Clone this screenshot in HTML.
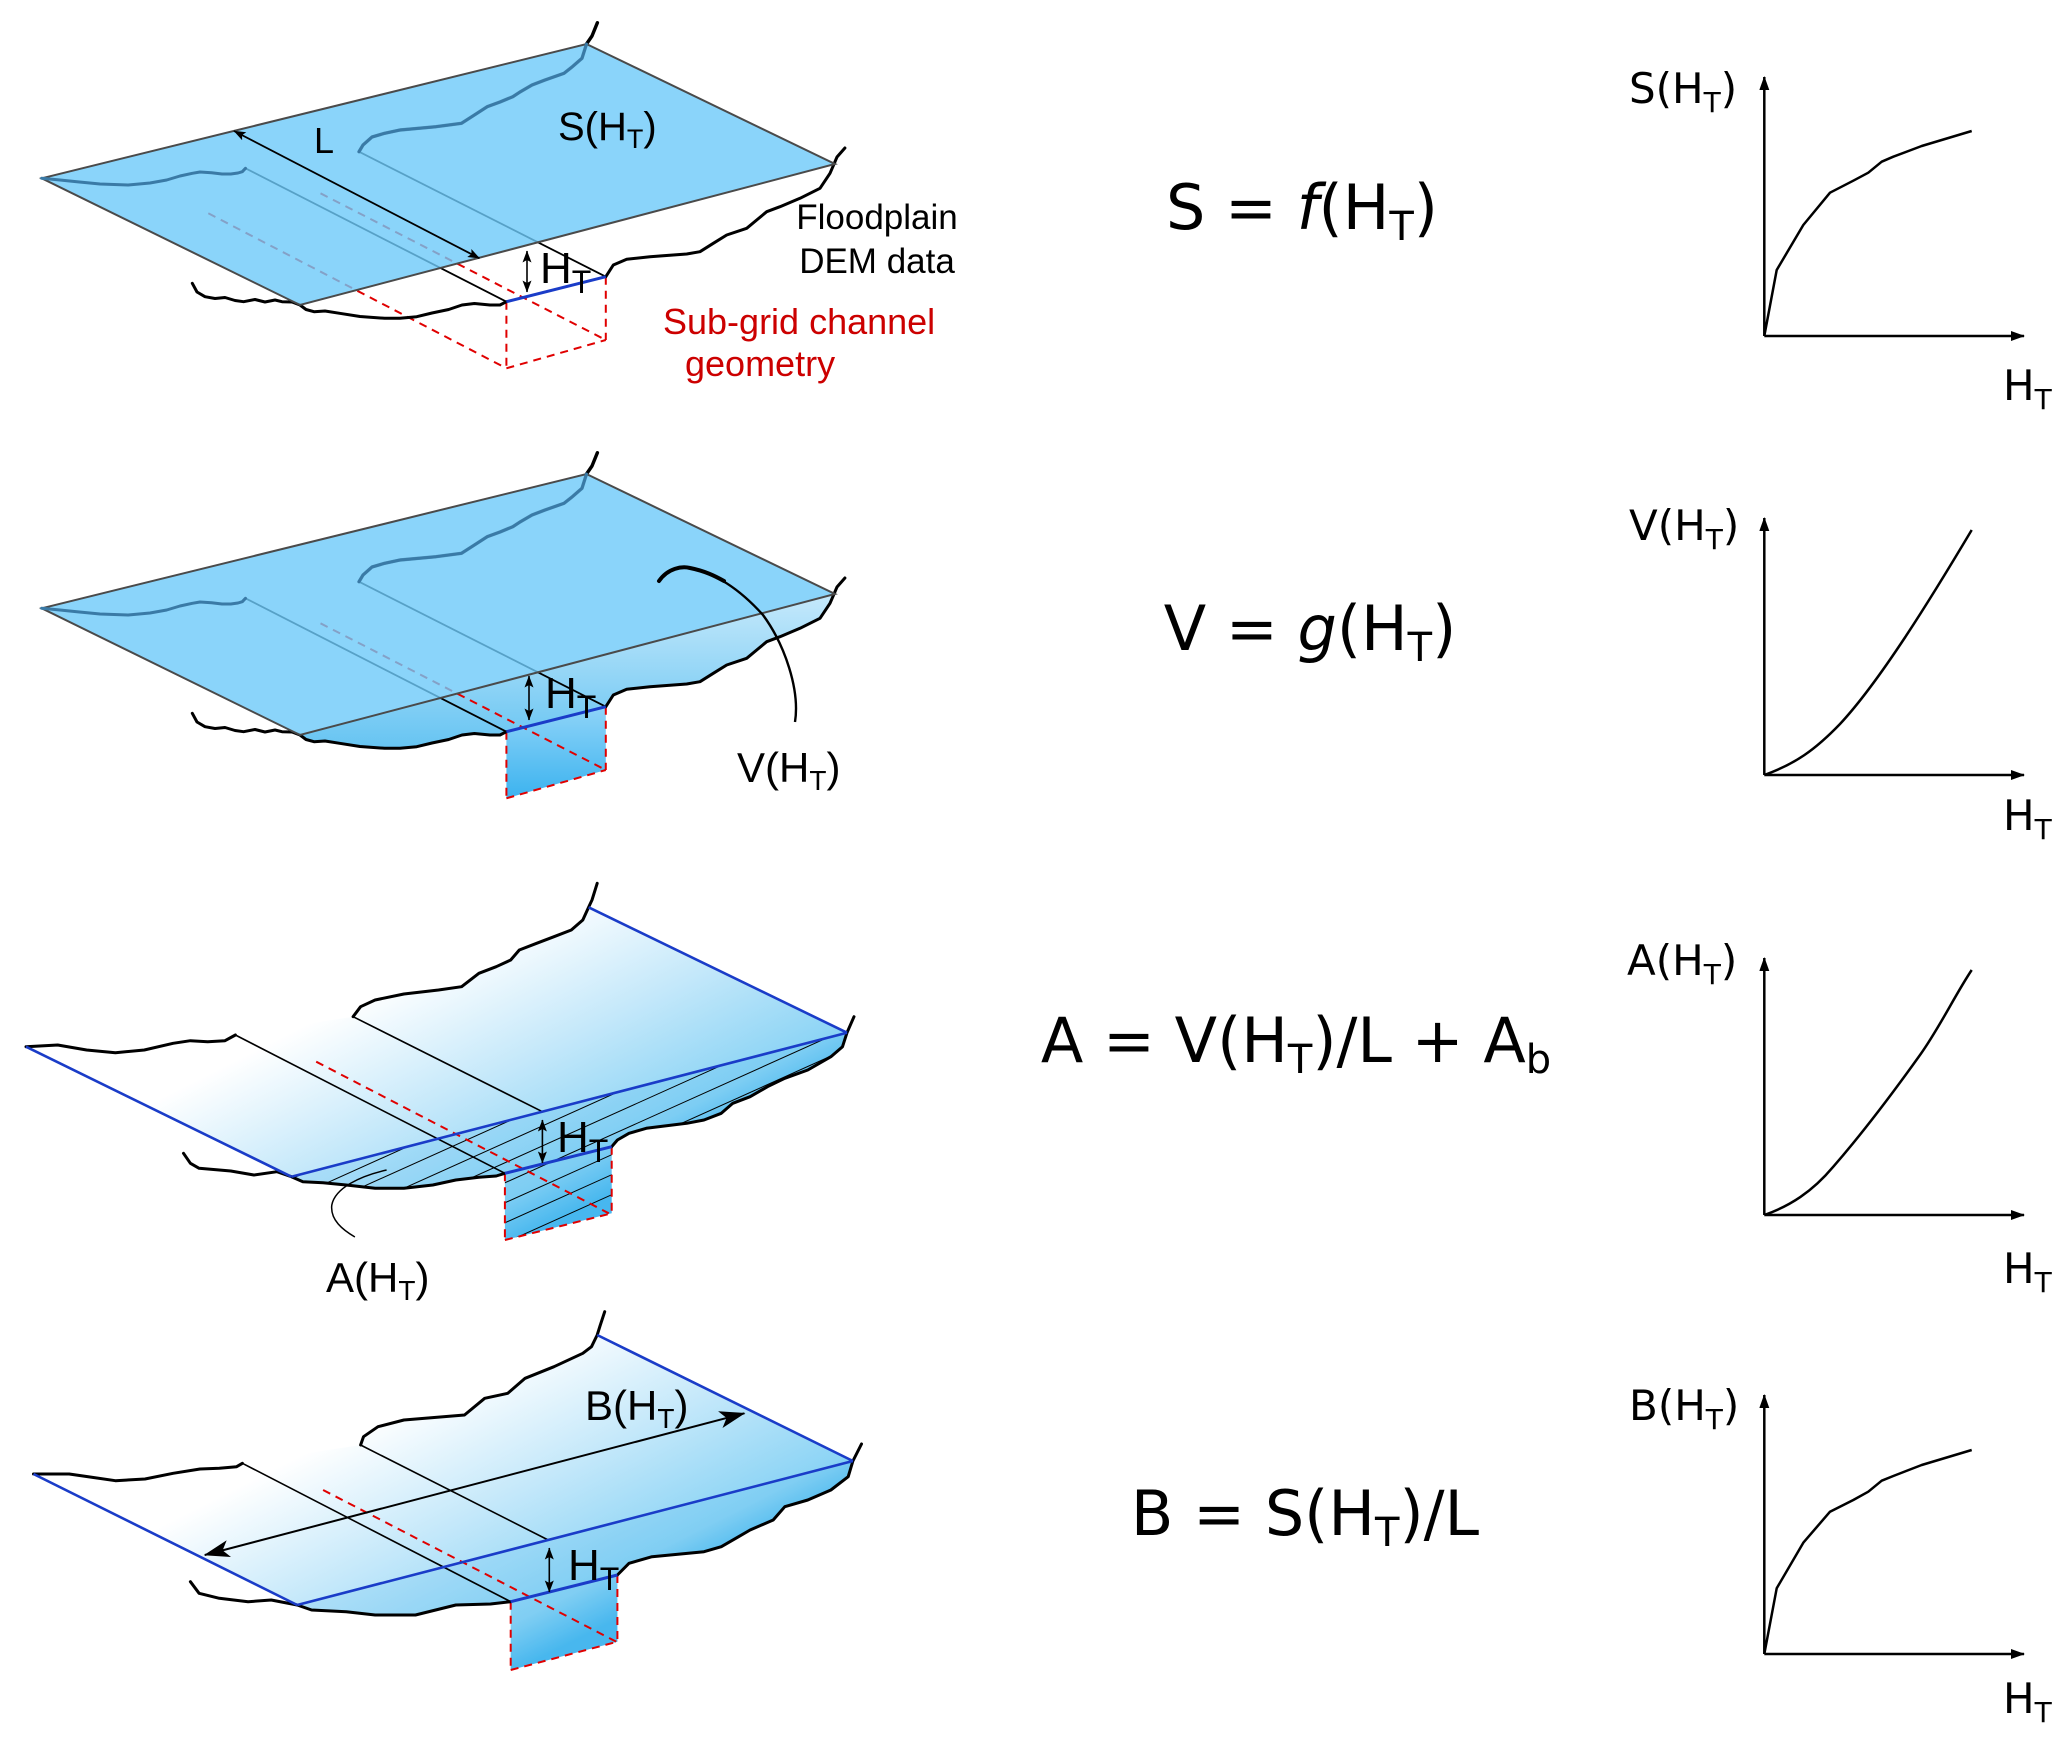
<!DOCTYPE html>
<html>
<head>
<meta charset="utf-8">
<style>
html,body{margin:0;padding:0;background:#fff;}
svg{display:block;}
.ls{font-family:"Liberation Sans",Arial,sans-serif;}
.dj{font-family:"DejaVu Sans","Liberation Sans",sans-serif;}
</style>
</head>
<body>
<svg width="2067" height="1738" viewBox="0 0 2067 1738" xmlns="http://www.w3.org/2000/svg">
<defs>
  <marker id="a1" viewBox="0 0 12 10" refX="11.5" refY="5" markerWidth="12" markerHeight="10" markerUnits="userSpaceOnUse" orient="auto-start-reverse"><path d="M0,0.5 L12,5 L0,9.5 L2.5,5 z" fill="#000"/></marker>
  <marker id="a2" viewBox="0 0 24 16" refX="23" refY="8" markerWidth="26" markerHeight="18" markerUnits="userSpaceOnUse" orient="auto-start-reverse"><path d="M0,0 L24,8 L0,16 L6,8 z" fill="#000"/></marker>
  <marker id="ax" viewBox="0 0 14 10" refX="13" refY="5" markerWidth="14" markerHeight="10" markerUnits="userSpaceOnUse" orient="auto"><path d="M0,0 L14,5 L0,10 z" fill="#000"/></marker>

  <linearGradient id="ff2" x1="0" y1="0" x2="0" y2="1">
    <stop offset="0" stop-color="#c6e9fb"/>
    <stop offset="1" stop-color="#66c4f2"/>
  </linearGradient>
  <linearGradient id="ch" x1="0" y1="0" x2="0" y2="1">
    <stop offset="0" stop-color="#8fd4f8"/>
    <stop offset="1" stop-color="#3cb3ef"/>
  </linearGradient>
  <linearGradient id="s3g" gradientUnits="userSpaceOnUse" x1="300" y1="1028" x2="430.5" y2="1286">
    <stop offset="0" stop-color="#ffffff"/>
    <stop offset="0.45" stop-color="#c4e8fa"/>
    <stop offset="0.85" stop-color="#8cd4f5"/>
    <stop offset="1" stop-color="#4ab9ef"/>
  </linearGradient>
  <linearGradient id="s4g" gradientUnits="userSpaceOnUse" x1="300" y1="1456" x2="430.5" y2="1714">
    <stop offset="0" stop-color="#ffffff"/>
    <stop offset="0.45" stop-color="#c4e8fa"/>
    <stop offset="0.85" stop-color="#8cd4f5"/>
    <stop offset="1" stop-color="#4ab9ef"/>
  </linearGradient>

  <path id="gL" d="M192.3,283.3 L197,292 L205,296.7 L215,298.5 L225,297.5 L235,300.5 L243.6,301.7 L255,299.5 L265,302 L275,300 L282,301.7 L292,302 L300,305 L306,309.5 L314,311.7 L325,311 L339.7,313.3 L360,316.5 L384.6,318.3 L400,318.3 L416.7,316.7 L432,313 L448.7,309.5 L462,305 L474.4,303.5 L490,305 L500,305 L506.4,301.7"/>
  <path id="gR" d="M605.8,276.7 L613.3,265 L626.7,259.3 L650,256.7 L686.7,254 L700,251.7 L713.3,243.3 L726.7,235 L746.7,228.3 L756.7,220 L766.7,211.7 L780,206.7 L800,198.3 L820,188.3 L830,173.3 L834,164 L837,157 L844.9,148"/>
  <path id="wL" d="M41.7,178.3 L60,180 L76.9,181.7 L100,184 L128.2,185 L150,183 L166.7,180 L180,176 L192.3,173.3 L200,172 L211.5,172.7 L222,174 L230.8,174 L238,173 L242.3,171.7 L245.5,168.3"/>
  <path id="wR" d="M597.4,22.7 L592,36 L586.5,44 L582,58.3 L572,67 L564,73.3 L545,80 L532,85 L520,92 L512.8,96.7 L500,102 L487.2,106.7 L474.4,115 L461.5,123.3 L435.9,126.7 L400,130 L384.6,133.3 L372,137 L363,145 L359,151.7"/>
  <path id="wR2" d="M586.5,44 L582,58.3 L572,67 L564,73.3 L545,80 L532,85 L520,92 L512.8,96.7 L500,102 L487.2,106.7 L474.4,115 L461.5,123.3 L435.9,126.7 L400,130 L384.6,133.3 L372,137 L363,145 L359,151.7"/>
  <polygon id="pl" points="41.7,178.3 586.5,44 835,164 300,305"/>

  <clipPath id="h3clip">
    <path d="M291.4,1176.7 L847,1032.7 L842.5,1046.7 L830.9,1056.7 L807.8,1070 L784.8,1078.3 L767.5,1086.7 L750.1,1096.7 L732.8,1103.3 L721.3,1113.3 L704,1120 L686.7,1123.3 L646.3,1128.3 L629,1133.3 L617.4,1140 L611.7,1146.7 L611.7,1213.3 L504.9,1240 L504.9,1173.3 L496.2,1176 L478.9,1177.3 L455.8,1180 L432.8,1185 L403.9,1188.3 L375.1,1188.3 L346.2,1185 L323.1,1182.7 L302.9,1181.7 Z"/>
  </clipPath>
</defs>

<rect x="0" y="0" width="2067" height="1738" fill="#fff"/>

<!-- ================= PANEL 1 ================= -->
<g>
  <g stroke="#e00000" stroke-width="2" stroke-dasharray="8,6" fill="none">
    <line x1="208.3" y1="213.3" x2="506.4" y2="368.3"/>
    <line x1="320.5" y1="193.3" x2="605.8" y2="340"/>
    <line x1="506.4" y1="301.7" x2="506.4" y2="368.3"/>
    <line x1="605.8" y1="276.7" x2="605.8" y2="340"/>
    <line x1="506.4" y1="368.3" x2="605.8" y2="340"/>
  </g>
  <g fill="none" stroke="#000" stroke-linejoin="round" stroke-linecap="round">
    <use href="#gL" stroke-width="3"/>
    <use href="#gR" stroke-width="3"/>
    <use href="#wR" stroke-width="3.4"/>
    <line x1="245.5" y1="168.3" x2="506.4" y2="301.7" stroke-width="1.8"/>
    <line x1="359" y1="151.7" x2="605.8" y2="276.7" stroke-width="1.8"/>
  </g>
  <line x1="506.4" y1="301.7" x2="605.8" y2="276.7" stroke="#1a3cc8" stroke-width="3"/>
  <use href="#pl" fill="#6dc9f9" fill-opacity="0.8" stroke="#4a4a4a" stroke-width="2"/>
  <g fill="none" stroke="#3a7aa6" stroke-width="3" stroke-linejoin="round" stroke-linecap="round">
    <use href="#wL"/>
    <use href="#wR2"/>
  </g>
  <line x1="234" y1="131" x2="479.5" y2="258.3" stroke="#000" stroke-width="1.8" marker-start="url(#a1)" marker-end="url(#a1)"/>
  <line x1="527" y1="251" x2="527" y2="292" stroke="#000" stroke-width="1.6" marker-start="url(#a1)" marker-end="url(#a1)"/>
  <text class="ls" x="314" y="153" font-size="36">L</text>
  <text class="ls" x="558" y="140" font-size="40">S(H<tspan font-size="27" dy="8">T</tspan><tspan dy="-8">)</tspan></text>
  <text class="ls" x="540" y="283" font-size="44">H<tspan font-size="32" dy="10">T</tspan></text>
  <text class="ls" x="877" y="229" font-size="35" text-anchor="middle">Floodplain</text>
  <text class="ls" x="877" y="273" font-size="35" text-anchor="middle">DEM data</text>
  <text class="ls" x="663" y="334" font-size="36" fill="#cc0000">Sub-grid channel</text>
  <text class="ls" x="685" y="376" font-size="36" fill="#cc0000">geometry</text>
</g>

<!-- ================= PANEL 2 ================= -->
<g>
  <g transform="translate(0,430)">
    <path d="M300,305 L306,309.5 L314,311.7 L325,311 L339.7,313.3 L360,316.5 L384.6,318.3 L400,318.3 L416.7,316.7 L432,313 L448.7,309.5 L462,305 L474.4,303.5 L490,305 L500,305 L506.4,301.7 L605.8,276.7 L613.3,265 L626.7,259.3 L650,256.7 L686.7,254 L700,251.7 L713.3,243.3 L726.7,235 L746.7,228.3 L756.7,220 L766.7,211.7 L780,206.7 L800,198.3 L820,188.3 L830,173.3 L835,164 Z" fill="url(#ff2)"/>
    <polygon points="506.4,301.7 605.8,276.7 605.8,340 506.4,368.3" fill="url(#ch)"/>
    <g stroke="#e00000" stroke-width="2" stroke-dasharray="8,6" fill="none">
      <line x1="320.5" y1="193.3" x2="605.8" y2="340"/>
      <line x1="506.4" y1="301.7" x2="506.4" y2="368.3"/>
      <line x1="605.8" y1="276.7" x2="605.8" y2="340"/>
      <line x1="506.4" y1="368.3" x2="605.8" y2="340"/>
    </g>
    <g fill="none" stroke="#000" stroke-linejoin="round" stroke-linecap="round">
      <use href="#gL" stroke-width="3"/>
      <use href="#gR" stroke-width="3"/>
      <use href="#wR" stroke-width="3.4"/>
      <line x1="245.5" y1="168.3" x2="506.4" y2="301.7" stroke-width="1.8"/>
      <line x1="359" y1="151.7" x2="605.8" y2="276.7" stroke-width="1.8"/>
    </g>
    <line x1="506.4" y1="301.7" x2="605.8" y2="276.7" stroke="#1a3cc8" stroke-width="3"/>
    <use href="#pl" fill="#6dc9f9" fill-opacity="0.8" stroke="#4a4a4a" stroke-width="2"/>
    <g fill="none" stroke="#3a7aa6" stroke-width="3" stroke-linejoin="round" stroke-linecap="round">
      <use href="#wL"/>
      <use href="#wR2"/>
    </g>
  </g>
  <path d="M659,581 C668,568 682,566 690,568 C720,574 745,595 763,615 C785,645 800,690 795,722" fill="none" stroke="#000" stroke-width="2.4"/>
  <path d="M659,581 C668,568 682,566 690,568 C705,571 715,576 724,581" fill="none" stroke="#000" stroke-width="4" stroke-linecap="round"/>
  <line x1="529" y1="676" x2="529" y2="720" stroke="#000" stroke-width="1.6" marker-start="url(#a1)" marker-end="url(#a1)"/>
  <text class="ls" x="545" y="708" font-size="44">H<tspan font-size="32" dy="10">T</tspan></text>
  <text class="ls" x="737" y="782" font-size="42">V(H<tspan font-size="28" dy="8">T</tspan><tspan dy="-8">)</tspan></text>
</g>

<!-- ================= PANEL 3 ================= -->
<g>
  <path d="M26,1046.7 L57.7,1045 L86.6,1050 L115.4,1052.7 L144.3,1050 L173.1,1043.3 L190.4,1040.7 L207.7,1041.7 L225,1040.7 L235.4,1035 L353.1,1016.7 L360.6,1006.7 L375.1,1000 L403.9,994 L438.5,990 L461.6,986.7 L478.9,973.3 L496.2,966.7 L510.7,960 L519.3,950 L536.6,943.3 L554,936.7 L571.3,930 L582.8,920 L588.6,907.3 L847,1032.7 L842.5,1046.7 L830.9,1056.7 L807.8,1070 L784.8,1078.3 L767.5,1086.7 L750.1,1096.7 L732.8,1103.3 L721.3,1113.3 L704,1120 L686.7,1123.3 L646.3,1128.3 L629,1133.3 L617.4,1140 L611.7,1146.7 L611.7,1213.3 L504.9,1240 L504.9,1173.3 L496.2,1176 L478.9,1177.3 L455.8,1180 L432.8,1185 L403.9,1188.3 L375.1,1188.3 L346.2,1185 L323.1,1182.7 L302.9,1181.7 L291.4,1176.7 Z" fill="url(#s3g)"/>
  <g clip-path="url(#h3clip)">
    <rect x="280" y="1020" width="600" height="240" fill="#3fb0ee" fill-opacity="0.18"/>
    <g stroke="#000" stroke-width="1">
      <line x1="280" y1="1184" x2="860" y2="923"/>
      <line x1="280" y1="1204" x2="860" y2="943"/>
      <line x1="280" y1="1224" x2="860" y2="963"/>
      <line x1="280" y1="1244" x2="860" y2="983"/>
      <line x1="280" y1="1264" x2="860" y2="1003"/>
      <line x1="280" y1="1284" x2="860" y2="1023"/>
      <line x1="280" y1="1304" x2="860" y2="1043"/>
      <line x1="280" y1="1324" x2="860" y2="1063"/>
      <line x1="280" y1="1344" x2="860" y2="1083"/>
      <line x1="280" y1="1364" x2="860" y2="1103"/>
      <line x1="280" y1="1384" x2="860" y2="1123"/>
    </g>
  </g>
  <g stroke="#e00000" stroke-width="2" stroke-dasharray="8,6" fill="none">
    <line x1="316.2" y1="1061.7" x2="608.8" y2="1213.3"/>
    <line x1="504.9" y1="1173.3" x2="504.9" y2="1240"/>
    <line x1="611.7" y1="1146.7" x2="611.7" y2="1213.3"/>
    <line x1="504.9" y1="1240" x2="611.7" y2="1213.3"/>
  </g>
  <g fill="none" stroke="#000" stroke-linejoin="round" stroke-linecap="round" stroke-width="3">
    <path d="M26,1046.7 L57.7,1045 L86.6,1050 L115.4,1052.7 L144.3,1050 L173.1,1043.3 L190.4,1040.7 L207.7,1041.7 L225,1040.7 L235.4,1035"/>
    <path d="M597.2,883.3 L592,900 L588.6,907.3 L582.8,920 L571.3,930 L554,936.7 L536.6,943.3 L519.3,950 L510.7,960 L496.2,966.7 L478.9,973.3 L461.6,986.7 L438.5,990 L403.9,994 L375.1,1000 L360.6,1006.7 L353.1,1016.7"/>
    <path d="M854,1016.7 L847,1032.7 L842.5,1046.7 L830.9,1056.7 L807.8,1070 L784.8,1078.3 L767.5,1086.7 L750.1,1096.7 L732.8,1103.3 L721.3,1113.3 L704,1120 L686.7,1123.3 L646.3,1128.3 L629,1133.3 L617.4,1140 L611.7,1146.7"/>
    <path d="M183.5,1153.3 L190.4,1163.3 L199.1,1168.3 L230.8,1171 L253.9,1175 L277,1171.7 L291.4,1176.7 L302.9,1181.7 L323.1,1182.7 L346.2,1185 L375.1,1188.3 L403.9,1188.3 L432.8,1185 L455.8,1180 L478.9,1177.3 L496.2,1176 L504.9,1173.3"/>
  </g>
  <g stroke="#000" stroke-width="1.6">
    <line x1="235.4" y1="1035" x2="504.9" y2="1173.3"/>
    <line x1="353.1" y1="1016.7" x2="542.4" y2="1111.7"/>
  </g>
  <g stroke="#1a3cc8" stroke-width="2.6" fill="none">
    <line x1="26" y1="1046.7" x2="291.4" y2="1176.7"/>
    <line x1="291.4" y1="1176.7" x2="847" y2="1032.7"/>
    <line x1="588.6" y1="907.3" x2="847" y2="1032.7"/>
    <line x1="504.9" y1="1173.3" x2="611.7" y2="1146.7" stroke-width="3"/>
  </g>
  <path d="M386.6,1170 C360,1176 335,1188 331.8,1205 C330,1220 343,1230 354.9,1237" fill="none" stroke="#000" stroke-width="1.5"/>
  <line x1="542.4" y1="1120" x2="542.4" y2="1163" stroke="#000" stroke-width="1.6" marker-start="url(#a1)" marker-end="url(#a1)"/>
  <text class="ls" x="557" y="1152" font-size="44">H<tspan font-size="32" dy="10">T</tspan></text>
  <text class="ls" x="326" y="1292" font-size="42">A(H<tspan font-size="28" dy="8">T</tspan><tspan dy="-8">)</tspan></text>
</g>

<!-- ================= PANEL 4 ================= -->
<g>
  <path d="M33.5,1474 L69.2,1474 L90,1477 L115.4,1480.7 L145,1479 L173.1,1473.3 L200,1469 L219.3,1468.3 L236.6,1466.7 L242.4,1463.3 L360.6,1445 L363.5,1436.7 L378,1426.7 L403.9,1420 L464.5,1415 L484.7,1398.3 L507.8,1393.3 L525.1,1378.3 L554,1366.7 L582.8,1353.3 L591.5,1346.7 L597.2,1335 L852.9,1461 L848.2,1476.7 L830.9,1490 L807.8,1500 L784.8,1506.7 L773.2,1520 L750.1,1530 L738.6,1536.7 L721.3,1546.7 L704,1551.7 L652,1556.7 L629,1563.3 L617.4,1575 L617.4,1641.7 L510.7,1670 L510.7,1601.7 L490.5,1604 L455.8,1605 L415.5,1615 L375.1,1615 L346.2,1611.7 L311.6,1610 L297.2,1605 Z" fill="url(#s4g)"/>
  <path d="M297.2,1605 L852.9,1461 L848.2,1476.7 L830.9,1490 L807.8,1500 L784.8,1506.7 L773.2,1520 L750.1,1530 L738.6,1536.7 L721.3,1546.7 L704,1551.7 L652,1556.7 L629,1563.3 L617.4,1575 L617.4,1641.7 L510.7,1670 L510.7,1601.7 L490.5,1604 L455.8,1605 L415.5,1615 L375.1,1615 L346.2,1611.7 L311.6,1610 Z" fill="#3fb0ee" fill-opacity="0.15"/>
  <g stroke="#e00000" stroke-width="2" stroke-dasharray="8,6" fill="none">
    <line x1="323.1" y1="1490" x2="616.3" y2="1641.7"/>
    <line x1="510.7" y1="1601.7" x2="510.7" y2="1670"/>
    <line x1="617.4" y1="1575" x2="617.4" y2="1641.7"/>
    <line x1="510.7" y1="1670" x2="617.4" y2="1641.7"/>
  </g>
  <g fill="none" stroke="#000" stroke-linejoin="round" stroke-linecap="round" stroke-width="3">
    <path d="M33.5,1474 L69.2,1474 L90,1477 L115.4,1480.7 L145,1479 L173.1,1473.3 L200,1469 L219.3,1468.3 L236.6,1466.7 L242.4,1463.3"/>
    <path d="M604.7,1311.7 L600,1326 L597.2,1335 L591.5,1346.7 L582.8,1353.3 L554,1366.7 L525.1,1378.3 L507.8,1393.3 L484.7,1398.3 L464.5,1415 L403.9,1420 L378,1426.7 L363.5,1436.7 L360.6,1445"/>
    <path d="M861.5,1444 L852.9,1461 L848.2,1476.7 L830.9,1490 L807.8,1500 L784.8,1506.7 L773.2,1520 L750.1,1530 L738.6,1536.7 L721.3,1546.7 L704,1551.7 L652,1556.7 L629,1563.3 L617.4,1575"/>
    <path d="M190.4,1581.7 L199.1,1593.3 L219.3,1598.3 L248.1,1601.7 L271.2,1600 L297.2,1605 L311.6,1610 L346.2,1611.7 L375.1,1615 L415.5,1615 L455.8,1605 L490.5,1604 L510.7,1601.7"/>
  </g>
  <g stroke="#000" stroke-width="1.6">
    <line x1="242.4" y1="1463.3" x2="510.7" y2="1601.7"/>
    <line x1="360.6" y1="1445" x2="548.2" y2="1540"/>
  </g>
  <g stroke="#1a3cc8" stroke-width="2.6" fill="none">
    <line x1="33.5" y1="1474" x2="297.2" y2="1605"/>
    <line x1="297.2" y1="1605" x2="852.9" y2="1461"/>
    <line x1="597.2" y1="1335" x2="852.9" y2="1461"/>
    <line x1="510.7" y1="1601.7" x2="617.4" y2="1575" stroke-width="3"/>
  </g>
  <line x1="744.4" y1="1413.3" x2="204.8" y2="1555" stroke="#000" stroke-width="2" marker-start="url(#a2)" marker-end="url(#a2)"/>
  <line x1="549.3" y1="1548" x2="549.3" y2="1592" stroke="#000" stroke-width="1.6" marker-start="url(#a1)" marker-end="url(#a1)"/>
  <text class="ls" x="568" y="1580" font-size="44">H<tspan font-size="32" dy="10">T</tspan></text>
  <text class="ls" x="585" y="1420" font-size="42">B(H<tspan font-size="28" dy="8">T</tspan><tspan dy="-8">)</tspan></text>
</g>

<!-- ================= EQUATIONS ================= -->
<g class="dj" font-size="62" text-anchor="middle" fill="#000">
  <text x="1302" y="229">S = <tspan font-style="italic">f</tspan>(H<tspan font-size="40" dy="11">T</tspan><tspan dy="-11">)</tspan></text>
  <text x="1310" y="650">V = <tspan font-style="italic">g</tspan>(H<tspan font-size="40" dy="11">T</tspan><tspan dy="-11">)</tspan></text>
  <text x="1296" y="1062">A = V(H<tspan font-size="40" dy="11">T</tspan><tspan dy="-11">)/L + A</tspan><tspan font-size="40" dy="11">b</tspan></text>
  <text x="1305" y="1535">B = S(H<tspan font-size="40" dy="11">T</tspan><tspan dy="-11">)/L</tspan></text>
</g>

<!-- ================= GRAPHS ================= -->
<g fill="none" stroke="#000" stroke-width="2.5" stroke-linejoin="round">
  <line x1="1764.3" y1="336" x2="1764.3" y2="77" marker-end="url(#ax)"/>
  <line x1="1764.3" y1="336" x2="2024" y2="336" marker-end="url(#ax)"/>
  <polyline points="1764.3,336 1776.7,270 1803.3,225 1830,192.7 1853.3,180.7 1868.3,172.7 1881.7,161.7 1893.3,156.7 1921.7,146 1971.7,131"/>

  <line x1="1764.3" y1="775" x2="1764.3" y2="518" marker-end="url(#ax)"/>
  <line x1="1764.3" y1="775" x2="2024" y2="775" marker-end="url(#ax)"/>
  <path d="M1764.3,775 C1795,764 1815,750 1840,724 C1880,681 1930,600 1971.7,530"/>

  <line x1="1764.3" y1="1215" x2="1764.3" y2="958" marker-end="url(#ax)"/>
  <line x1="1764.3" y1="1215" x2="2024" y2="1215" marker-end="url(#ax)"/>
  <path d="M1764.3,1215 C1790,1206 1812,1192 1833.3,1166.7 C1860,1136 1890,1097 1920,1055 C1940,1027 1955,995 1971.7,970"/>

  <line x1="1764.3" y1="1654" x2="1764.3" y2="1395" marker-end="url(#ax)"/>
  <line x1="1764.3" y1="1654" x2="2024" y2="1654" marker-end="url(#ax)"/>
  <polyline points="1764.3,1654 1776.7,1588.3 1803.3,1542.7 1830,1511.7 1853.3,1500 1868.3,1491.7 1881.7,1480.7 1893.3,1476 1921.7,1465 1971.7,1450"/>
</g>
<g class="dj" font-size="42" fill="#000">
  <text x="1629" y="103">S(H<tspan font-size="28" dy="9">T</tspan><tspan dy="-9">)</tspan></text>
  <text x="2003" y="400">H<tspan font-size="28" dy="9">T</tspan></text>
  <text x="1629" y="540">V(H<tspan font-size="28" dy="9">T</tspan><tspan dy="-9">)</tspan></text>
  <text x="2003" y="830">H<tspan font-size="28" dy="9">T</tspan></text>
  <text x="1627" y="975">A(H<tspan font-size="28" dy="9">T</tspan><tspan dy="-9">)</tspan></text>
  <text x="2003" y="1283">H<tspan font-size="28" dy="9">T</tspan></text>
  <text x="1629" y="1420">B(H<tspan font-size="28" dy="9">T</tspan><tspan dy="-9">)</tspan></text>
  <text x="2003" y="1713">H<tspan font-size="28" dy="9">T</tspan></text>
</g>
</svg>
</body>
</html>
